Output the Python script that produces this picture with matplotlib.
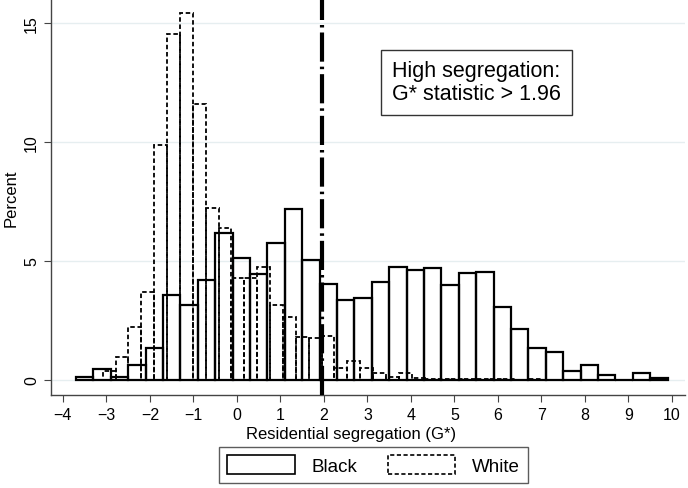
import numpy as np
import matplotlib.pyplot as plt
from matplotlib.patches import Patch

plt.rcParams['font.family'] = ['Liberation Sans', 'DejaVu Sans']

# Black: 34 bins of width 0.4 starting at -3.7 (percent)
black_start = -3.7
black_width = 0.4
black_pct = [0.13, 0.45, 0.13, 0.63, 1.33, 3.57, 3.14, 4.19, 6.15, 5.14,
             4.44, 5.77, 7.17, 5.04, 4.02, 3.36, 3.43, 4.12, 4.76, 4.62,
             4.72, 3.99, 4.51, 4.54, 3.04, 2.13, 1.33, 1.15, 0.38, 0.62,
             0.20, 0.00, 0.27, 0.07]

# White: narrower bins (width ~0.296) starting at -3.086 (percent)
white_start = -3.086
white_width = 0.296
white_pct = [0.36, 0.97, 2.20, 3.71, 9.87, 14.55, 15.40, 11.60, 7.24, 6.40,
             4.26, 4.26, 4.76, 3.14, 2.66, 1.82, 1.74, 1.86, 0.48, 0.80,
             0.48, 0.28, 0.12, 0.28, 0.08, 0.05, 0.04, 0.03, 0.02, 0.03,
             0.02, 0.02, 0.01, 0.02, 0.01, 0.01]

cutoff = 1.96
x_ticks = list(range(-4, 11))
y_ticks = [0, 5, 10, 15]

fig = plt.figure(figsize=(6.88, 4.89), dpi=100)
ax = fig.add_axes([0.0737, 0.190, 0.922, 0.81])

bx = black_start + black_width * np.arange(len(black_pct))
wx = white_start + white_width * np.arange(len(white_pct))

ax.bar(bx, black_pct, width=black_width, align='edge', facecolor='none',
       edgecolor='black', linewidth=1.6, zorder=3)
ax.bar(wx, white_pct, width=white_width, align='edge', facecolor='none',
       edgecolor='black', linewidth=1.3, linestyle=(0, (2.5, 1.5)), zorder=3)

ax.axvline(cutoff, color='black', linewidth=3.0, dashes=(7, 1.2, 0.6, 1.2), zorder=4)

ax.set_xlim(-4.28, 10.3)
ax.set_ylim(-0.64, 16.0)
ax.set_xticks(x_ticks)
ax.set_yticks(y_ticks)
ax.tick_params(axis='both', labelsize=11.5, length=5, color='#444444')
ax.tick_params(axis='y', labelrotation=90)
for lab in ax.get_yticklabels():
    lab.set_va('center')
ax.grid(axis='y', color='#e6eef0', linewidth=1.0, zorder=0)
ax.set_axisbelow(True)

for side in ['top', 'right']:
    ax.spines[side].set_visible(False)
for side in ['left', 'bottom']:
    ax.spines[side].set_color('#444444')
    ax.spines[side].set_linewidth(1.0)

ax.set_xlabel('Residential segregation (G*)', fontsize=12, labelpad=2)
ax.xaxis.set_label_coords(0.473, -0.078)
ax.set_ylabel('Percent', fontsize=12, labelpad=4)

ax.text(0.538, 0.845, 'High segregation:\nG* statistic > 1.96', transform=ax.transAxes,
        fontsize=15.5, va='top', ha='left', linespacing=1.1,
        bbox=dict(boxstyle='square,pad=0.5', facecolor='white', edgecolor='#333333',
                  linewidth=1.0), zorder=5)

handles = [Patch(facecolor='white', edgecolor='black', linewidth=1.2, label='Black'),
           Patch(facecolor='white', edgecolor='black', linewidth=1.2,
                 linestyle=(0, (2.5, 1.5)), label='White')]
leg = fig.legend(handles=handles, loc='center', bbox_to_anchor=(0.543, 0.047), ncol=2,
                 fontsize=13.5, frameon=True, fancybox=False, edgecolor='#333333',
                 handlelength=3.6, handleheight=1.2, columnspacing=1.6,
                 handletextpad=0.9, borderpad=0.45)
leg.get_frame().set_linewidth(1.0)

fig.savefig('out.png', dpi=100)
